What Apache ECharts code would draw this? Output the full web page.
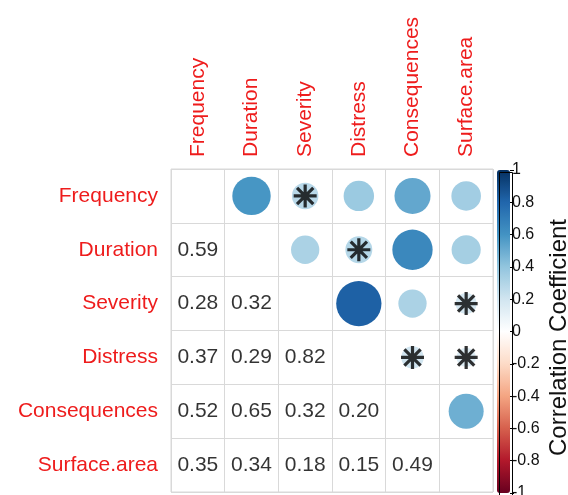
<!DOCTYPE html>
<html>
<head>
<meta charset="utf-8">
<script src="https://cdn.jsdelivr.net/npm/echarts@6/dist/echarts.min.js"></script>
<style>
html,body{margin:0;padding:0;background:#fff;}
#chart{width:568px;height:495px;}
</style>
</head>
<body>
<div id="chart"></div>
<script>
// ---- data ----
const variables = ['Frequency', 'Duration', 'Severity', 'Distress', 'Consequences', 'Surface.area'];
// lower-triangle correlations: row i, columns 0..i-1
const corrDuration = [0.59];
const corrSeverity = [0.28, 0.32];
const corrDistress = [0.37, 0.29, 0.82];
const corrConsequences = [0.52, 0.65, 0.32, 0.20];
const corrSurfaceArea = [0.35, 0.34, 0.18, 0.15, 0.49];
const lowerRows = [[], corrDuration, corrSeverity, corrDistress, corrConsequences, corrSurfaceArea];
// non-significant pairs (marked with an asterisk)
const insignificantPairs = [
  ['Frequency', 'Severity'],
  ['Duration', 'Distress'],
  ['Severity', 'Surface.area'],
  ['Distress', 'Consequences'],
  ['Distress', 'Surface.area']
];
const palette = ['#67001F', '#B2182B', '#D6604D', '#F4A582', '#FDDBC7', '#FFFFFF',
                 '#D1E5F0', '#92C5DE', '#4393C3', '#2166AC', '#053061'];

// ---- build series data ----
const circleData = [];
const numberData = [];
const starData = [];
lowerRows.forEach((row, i) => {
  row.forEach((v, j) => {
    numberData.push([j, i, v]);           // lower triangle number
    circleData.push([i, j, v]);           // upper triangle circle (col i, row j)
  });
});
insignificantPairs.forEach(([a, b]) => {
  const r = variables.indexOf(a), c = variables.indexOf(b);
  starData.push([c, r, lowerRows[c][r]]);
});

const FONT = '"Liberation Sans", Arial, Helvetica, sans-serif';
const star = 'path://M-10,-1.4 L10,-1.4 L10,1.4 L-10,1.4 Z ' +
  'M-1.4,-10 L1.4,-10 L1.4,10 L-1.4,10 Z ' +
  'M6.08,8.06 L-8.06,-6.08 L-6.08,-8.06 L8.06,6.08 Z ' +
  'M8.06,-6.08 L-6.08,8.06 L-8.06,6.08 L6.08,-8.06 Z';

const chart = echarts.init(document.getElementById('chart'), null, {renderer: 'canvas'});
chart.setOption({
  animation: false,
  backgroundColor: '#fff',
  textStyle: {fontFamily: FONT},
  grid: [
    {left: 171, top: 169, width: 322, height: 323, show: true,
     borderColor: '#d9d9d9', borderWidth: 1, containLabel: false, outerBoundsMode: 'none'},
    {left: 497, top: 170, width: 13, height: 323, show: false, containLabel: false, outerBoundsMode: 'none'}
  ],
  xAxis: [
    {gridIndex: 0, type: 'category', data: variables, position: 'top',
     axisLine: {show: false}, axisTick: {show: false},
     axisLabel: {rotate: -90, color: '#ee1c1c', fontSize: 21, margin: 12, interval: 0, fontFamily: FONT},
     splitLine: {show: true, interval: 0, lineStyle: {color: '#d9d9d9', width: 1}}},
    {gridIndex: 1, type: 'value', min: 0, max: 1, show: false}
  ],
  yAxis: [
    {gridIndex: 0, type: 'category', data: variables, inverse: true,
     axisLine: {show: false}, axisTick: {show: false},
     axisLabel: {color: '#ee1c1c', fontSize: 21, margin: 13, interval: 0, fontFamily: FONT},
     splitLine: {show: true, interval: 0, lineStyle: {color: '#d9d9d9', width: 1}}},
    {gridIndex: 1, type: 'value', min: -1, max: 1, interval: 0.2, position: 'right',
     axisLine: {show: false, onZero: false},
     axisTick: {show: true, length: 4, lineStyle: {color: '#000', width: 1}},
     axisLabel: {color: '#111', fontSize: 16, margin: 2, align: 'left',
       showMinLabel: true, showMaxLabel: true, fontFamily: FONT,
       formatter: v => String(Math.round(v * 10) / 10)},
     splitLine: {show: false},
     name: 'Correlation Coefficient', nameLocation: 'middle', nameRotate: 90, nameGap: 37,
     nameTextStyle: {fontSize: 24, color: '#111', fontFamily: FONT, padding: [0, 12, 0, 0]}}
  ],
  visualMap: {
    type: 'continuous', min: -1, max: 1, seriesIndex: 0,
    left: 497, top: 170, itemWidth: 13, itemHeight: 323, padding: 0,
    calculable: false, hoverLink: false, z: 1,
    inRange: {color: palette}
  },
  graphic: [
    {type: 'rect', left: 497, top: 170, z: 100,
     shape: {width: 13, height: 323},
     style: {fill: 'none', stroke: '#000', lineWidth: 1}}
  ],
  series: [
    {type: 'scatter', xAxisIndex: 0, yAxisIndex: 0, data: circleData,
     symbol: 'circle', symbolSize: v => 50 * Math.sqrt(Math.abs(v[2])),
     itemStyle: {opacity: 1}, z: 2},
    {type: 'scatter', xAxisIndex: 0, yAxisIndex: 0, data: starData,
     symbol: star, symbolSize: 23, itemStyle: {color: '#000'}, z: 3},
    {type: 'scatter', xAxisIndex: 0, yAxisIndex: 0, data: numberData,
     symbolSize: 0, itemStyle: {color: 'rgba(0,0,0,0)'},
     label: {show: true, position: 'inside', formatter: p => p.value[2].toFixed(2),
       fontSize: 21, color: '#000', fontFamily: FONT}, z: 3}
  ]
});
</script>
</body>
</html>
